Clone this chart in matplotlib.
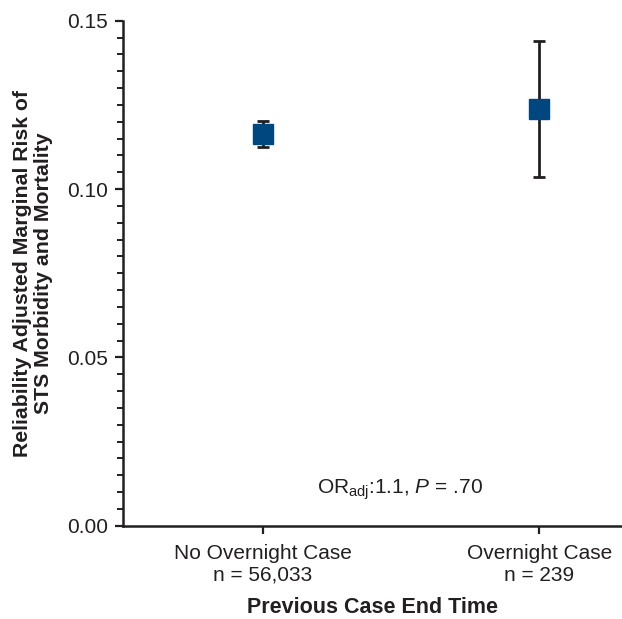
import matplotlib
matplotlib.use("Agg")
import matplotlib.pyplot as plt
from matplotlib.ticker import MultipleLocator

categories = ["No Overnight Case\nn = 56,033", "Overnight Case\nn = 239"]
risk = [0.1163, 0.1237]
ci_low = [0.1124, 0.1036]
ci_high = [0.1202, 0.1440]

plt.rcParams['font.family'] = ['Liberation Sans', 'DejaVu Sans']
plt.rcParams['mathtext.fontset'] = 'custom'
plt.rcParams['mathtext.rm'] = 'Liberation Sans'
plt.rcParams['mathtext.it'] = 'Liberation Sans:italic'

fig = plt.figure(figsize=(6.22, 6.19), dpi=100)
ax = fig.add_axes([0.198, 0.1507, 0.802, 0.8159])

x = list(range(len(categories)))
yerr = [[r - l for r, l in zip(risk, ci_low)], [h - r for r, h in zip(risk, ci_high)]]
ax.errorbar(x, risk, yerr=yerr, fmt='none', ecolor='#231f20', elinewidth=2,
            capsize=4.5, capthick=2, zorder=2)
ax.plot(x, risk, linestyle='none', marker='s', markersize=15,
        color='#00467f', zorder=3)

ax.set_xlim(-0.507, 1.30)
ax.set_ylim(0, 0.15)
ax.set_xticks(x)
ax.set_xticklabels(categories, fontsize=15, linespacing=1.2)
ax.set_yticks([0.0, 0.05, 0.10, 0.15])
ax.set_yticklabels(["0.00", "0.05", "0.10", "0.15"], fontsize=15)
ax.yaxis.set_minor_locator(MultipleLocator(0.005))

for s in ['top', 'right']:
    ax.spines[s].set_visible(False)
for s in ['left', 'bottom']:
    ax.spines[s].set_linewidth(1.8)
    ax.spines[s].set_color('#231f20')
ax.tick_params(axis='both', which='major', length=6, width=1.6, color='#231f20',
               labelcolor='#231f20')
ax.tick_params(axis='y', which='major', pad=5)
ax.tick_params(axis='x', which='major', pad=7)
ax.tick_params(axis='y', which='minor', length=4, width=1.4, color='#231f20')

ax.set_xlabel("Previous Case End Time", fontsize=15.5, fontweight='bold',
              color='#231f20', labelpad=9)
ax.set_ylabel("Reliability Adjusted Marginal Risk of\nSTS Morbidity and Mortality",
              fontsize=15.3, fontweight='bold', color='#231f20', labelpad=10,
              linespacing=1.15)

ax.text(0.495, 0.0094, r"OR$_{\mathrm{adj}}$:1.1, $\mathit{P}$ = .70",
        ha='center', va='baseline', fontsize=15, color='#231f20')

fig.savefig("out.png", dpi=100)
